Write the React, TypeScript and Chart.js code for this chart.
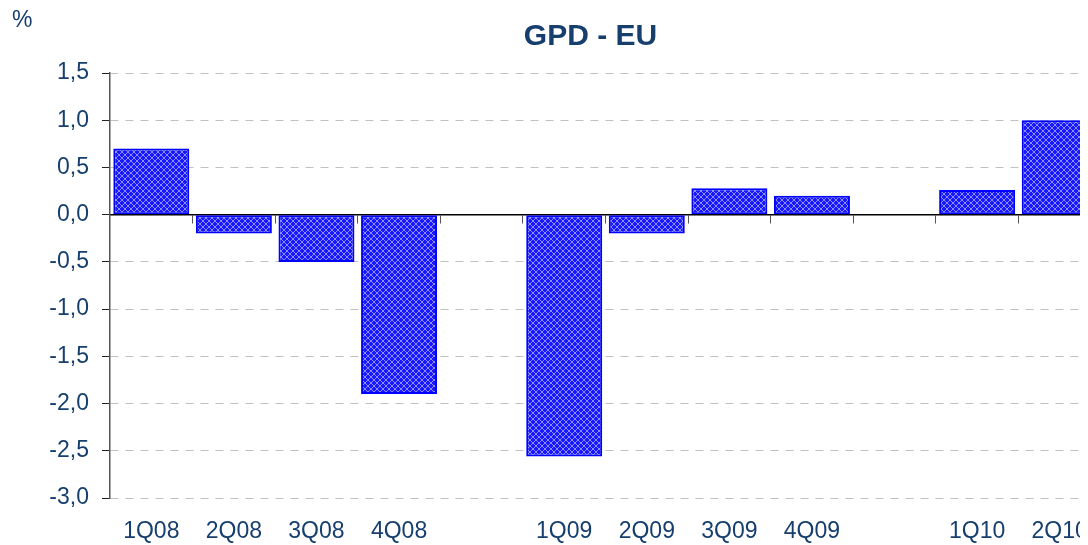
import React, { useEffect, useRef } from 'react';
import { Chart, registerables } from 'chart.js';

Chart.register(...registerables);

// ---- data ----
const categories = ['1Q08', '2Q08', '3Q08', '4Q08', '', '1Q09', '2Q09', '3Q09', '4Q09', '', '1Q10', '2Q10'];
const gdpValues = [0.7, -0.2, -0.5, -1.9, null, -2.56, -0.2, 0.28, 0.2, null, 0.26, 1.0];
const yMin = -3;
const yMax = 1.5;
const yStep = 0.5;
const chartTitle = 'GPD - EU';
const unitLabel = '%';

const NAVY = '#163f6e';
const FONT = '"Liberation Sans", Arial, sans-serif';

function makePattern(): CanvasPattern | string {
  const c = document.createElement('canvas');
  c.width = 6;
  c.height = 6;
  const g = c.getContext('2d');
  if (!g) return '#3a3aff';
  g.fillStyle = '#1818ff';
  g.fillRect(0, 0, 6, 6);
  g.fillStyle = '#8c8cff';
  for (let i = 0; i < 6; i++) {
    g.fillRect(i, i, 1, 1);
    g.fillRect(5 - i, i, 1, 1);
  }
  return g.createPattern(c, 'repeat') || '#3a3aff';
}

const headerPlugin = {
  id: 'headerTexts',
  afterDraw(chart: any) {
    const { ctx, chartArea } = chart;
    ctx.save();
    ctx.fillStyle = NAVY;
    ctx.textBaseline = 'alphabetic';
    ctx.font = `bold 30px ${FONT}`;
    ctx.textAlign = 'center';
    ctx.fillText(chartTitle, (chartArea.left + chartArea.right) / 2 - 15, chartArea.top - 28);
    ctx.font = `23px ${FONT}`;
    ctx.textAlign = 'left';
    ctx.fillText(unitLabel, 4, 19);
    ctx.restore();
  },
};

export default function App() {
  const ref = useRef<HTMLCanvasElement | null>(null);

  useEffect(() => {
    document.documentElement.style.overflow = 'hidden';
    document.body.style.overflow = 'hidden';
    const canvas = ref.current;
    if (!canvas) return;
    const pattern = makePattern();
    const chart = new Chart(canvas, {
      type: 'bar',
      data: {
        labels: categories,
        datasets: [
          {
            data: gdpValues as any,
            backgroundColor: pattern as any,
            borderColor: '#0000ff',
            borderWidth: 2,
            borderSkipped: false,
            categoryPercentage: 1,
            barPercentage: 0.92,
            xAxisID: 'x',
            yAxisID: 'y',
          },
        ],
      },
      options: {
        responsive: false,
        animation: false,
        layout: { padding: { top: 65, right: 7, left: 0, bottom: 0 } },
        plugins: {
          legend: { display: false },
          tooltip: { enabled: false },
          title: { display: false },
        },
        scales: {
          x: {
            type: 'category',
            position: { y: 0 } as any,
            offset: true,
            grid: {
              display: true,
              drawOnChartArea: false,
              drawTicks: true,
              tickLength: 8,
              offset: true,
              color: '#555',
              tickColor: '#555',
            },
            ticks: { display: false },
            border: { display: true, color: '#000', width: 1.5 },
          },
          x2: {
            type: 'category',
            position: 'bottom',
            offset: true,
            grid: { display: false },
            border: { display: false },
            afterFit(s: any) {
              s.height = 47;
            },
            ticks: {
              color: NAVY,
              font: { family: FONT, size: 23 },
              padding: 12,
              autoSkip: false,
              maxRotation: 0,
            },
          },
          y: {
            min: yMin,
            max: yMax,
            position: 'left',
            afterFit(s: any) {
              s.width = 102;
            },
            ticks: {
              stepSize: yStep,
              color: NAVY,
              font: { family: FONT, size: 23 },
              padding: 13,
              callback: (v: any) => Number(v).toFixed(1).replace('.', ','),
            },
            grid: {
              color: (c: any) => (c.tick && c.tick.value === 0 ? 'rgba(0,0,0,0)' : '#c0c0c0'),
              tickColor: '#222',
              tickLength: 8,
              tickBorderDash: [],
              lineWidth: 1,
            } as any,
            border: { display: true, color: '#555', width: 1.5, dash: [8, 7] },
          },
        },
      },
      plugins: [headerPlugin],
    });
    return () => chart.destroy();
  }, []);

  return (
    <div style={{ width: 1100, height: 537 }}>
      <canvas ref={ref} width={1100} height={537} style={{ display: 'block' }} />
    </div>
  );
}
